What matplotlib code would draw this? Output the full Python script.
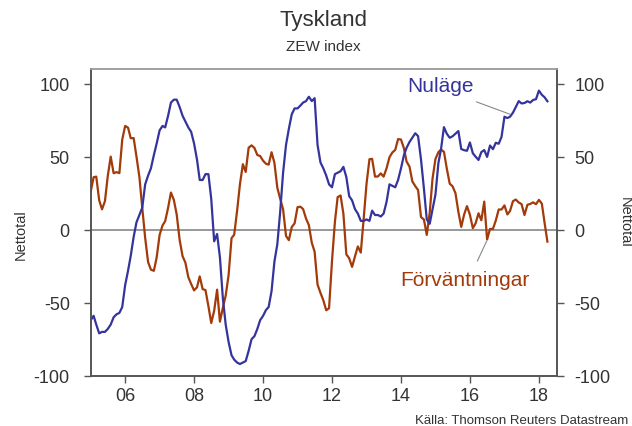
import numpy as np
import pandas as pd
import matplotlib
matplotlib.use('Agg')
import matplotlib.pyplot as plt
import matplotlib.dates as mdates

plt.rcParams['font.family'] = ['Liberation Sans', 'DejaVu Sans']

# monthly data, Jan 2005 - Apr 2018
months = pd.date_range('2005-01-01', periods=160, freq='MS')

# ZEW current situation (Nuläge)
nulage = [
    -62, -59, -65, -71, -70, -70, -68, -65, -60, -58, -57, -53,   # 2005
    -38, -28, -18, -5, 5, 10, 15, 31, 37, 42, 51, 59,              # 2006
    68, 71, 70, 78, 87, 89, 89, 84, 78, 74, 70, 67,                # 2007
    59, 48, 34, 34, 38, 38, 21, -8, -3, -19, -47, -65,             # 2008
    -77, -86, -89, -91, -92, -91, -90, -83, -75, -73, -68, -62,    # 2009
    -59, -55, -53, -42, -22, -10, 12, 39, 58, 69, 79, 83,          # 2010
    83, 85, 87, 88, 91, 88, 90, 58, 46, 42, 37, 31,                # 2011
    29, 38, 39, 40, 43, 36, 23, 20, 14, 11, 6, 6,                  # 2012
    7, 6, 13, 10, 10, 9, 11, 19, 31, 30, 29, 34,                   # 2013
    42, 51, 56, 60, 63, 66, 64, 48, 28, 7, 4, 14,                  # 2014
    24, 45.5, 55.1, 70.2, 65.7, 62.9, 63.9, 65.7, 67.5, 55.2, 54.4, 54.0,  # 2015
    59.7, 52.3, 50.0, 47.7, 53.1, 54.5, 49.8, 57.6, 55.1, 59.5, 58.8, 63.5,  # 2016
    77.3, 76.4, 77.3, 80.1, 83.9, 88.0, 86.4, 86.7, 87.9, 87.0, 88.8, 89.3,  # 2017
    95.2, 92.3, 90.7, 87.9,                                        # 2018
]

# ZEW economic sentiment (Förväntningar)
forvantningar = [
    26.0, 35.9, 36.3, 20.1, 13.9, 19.5, 36.8, 50.0, 38.6, 39.4, 38.7, 61.6,
    71.0, 69.8, 62.6, 62.7, 50.0, 36.0, 15.1, -5.6, -22.2, -27.4, -28.2, -19.0,
    -3.6, 2.9, 5.8, 15.0, 25.4, 20.3, 10.4, -6.9, -18.1, -22.6, -32.5, -37.2,
    -41.6, -39.5, -32.0, -40.7, -41.4, -52.4, -63.9, -55.5, -41.1, -63.0, -53.5, -45.2,
    -31.0, -5.8, -3.5, 13.0, 31.1, 44.8, 39.5, 56.1, 57.7, 56.0, 51.1, 50.4,
    47.2, 45.1, 44.5, 53.0, 45.8, 28.7, 21.2, 14.0, -4.3, -7.2, 1.8, 4.3,
    15.4, 15.7, 14.1, 7.6, 3.1, -9.0, -15.1, -37.6, -43.3, -48.3, -55.2, -53.8,
    -21.6, 5.4, 22.3, 23.4, 10.8, -16.9, -19.6, -25.5, -18.2, -11.5, -15.7, 6.9,
    31.5, 48.2, 48.5, 36.3, 36.4, 38.5, 36.3, 42.0, 49.6, 52.8, 54.6, 62.0,
    61.7, 55.7, 46.6, 43.2, 33.1, 29.8, 27.1, 8.6, 6.9, -3.6, 11.5, 34.9,
    48.4, 53.0, 54.8, 53.3, 41.9, 31.5, 29.7, 25.0, 12.1, 1.9, 10.4, 16.1,
    10.2, 1.0, 4.3, 11.2, 6.4, 19.2, -6.8, 0.5, 0.5, 6.2, 13.8, 13.8,
    16.6, 10.4, 12.8, 19.5, 20.6, 18.6, 17.5, 10.0, 17.0, 17.6, 18.7, 17.4,
    20.4, 17.8, 5.1, -8.2,
]

yticks = [-100, -50, 0, 50, 100]
xtick_years = [2006, 2008, 2010, 2012, 2014, 2016, 2018]

blue = '#34349c'
brown = '#a33a0a'
textcol = '#333333'
spinecol = '#555555'

fig = plt.figure(figsize=(6.32, 4.27), dpi=100)
ax = fig.add_axes([0.1435, 0.1178, 0.7373, 0.7183])

ax.axhline(0, color='#888888', lw=1.2, zorder=1)
ax.plot(months, forvantningar, color=brown, lw=1.6, zorder=3)
ax.plot(months, nulage, color=blue, lw=1.6, zorder=3)

ax.set_ylim(-100, 110)
ax.set_xlim(pd.Timestamp('2005-01-01'), pd.Timestamp('2018-07-08'))
ax.set_yticks(yticks)
ax.set_yticklabels([str(v) for v in yticks])
ax.set_xticks([pd.Timestamp(f'{y}-01-01') for y in xtick_years])
ax.xaxis.set_major_formatter(mdates.DateFormatter('%y'))

ax.tick_params(axis='y', direction='out', length=5, width=1, color=spinecol,
               labelsize=13, labelcolor=textcol, pad=10)
ax.tick_params(axis='x', direction='out', length=5, width=1, color=spinecol,
               labelsize=13, labelcolor=textcol, pad=3)

ax2 = ax.twinx()
ax2.set_ylim(ax.get_ylim())
ax2.set_yticks(yticks)
ax2.set_yticklabels([str(v) for v in yticks])
ax2.tick_params(axis='y', direction='out', length=5, width=1, color=spinecol,
                labelsize=13, labelcolor=textcol, pad=8)

for a in (ax, ax2):
    for side in ('left', 'right', 'bottom'):
        a.spines[side].set_color(spinecol)
        a.spines[side].set_linewidth(1.2)
    a.spines['top'].set_color('#a0a0a0')
    a.spines['top'].set_linewidth(1.2)

# series labels with leader lines
ax.text(pd.Timestamp('2015-02-20'), 99, 'Nuläge', color=blue, fontsize=15,
        ha='center', va='center')
ax.annotate('', xy=(pd.Timestamp('2017-03-01'), 79), xytext=(pd.Timestamp('2016-03-10'), 87.5),
            arrowprops=dict(arrowstyle='-', color='#888888', lw=0.8, shrinkA=0, shrinkB=0))
ax.text(pd.Timestamp('2015-11-10'), -34, 'Förväntningar', color=brown, fontsize=15,
        ha='center', va='center')
ax.annotate('', xy=(pd.Timestamp('2016-06-25'), -8), xytext=(pd.Timestamp('2016-03-20'), -21.5),
            arrowprops=dict(arrowstyle='-', color='#888888', lw=0.8, shrinkA=0, shrinkB=0))

fig.text(0.512, 0.953, 'Tyskland', ha='center', va='center', fontsize=16, color=textcol)
fig.text(0.512, 0.890, 'ZEW index', ha='center', va='center', fontsize=11, color=textcol)
fig.text(0.033, 0.45, 'Nettotal', rotation=90, ha='center', va='center', fontsize=10.5, color=textcol)
fig.text(0.989, 0.48, 'Nettotal', rotation=270, ha='center', va='center', fontsize=10.5, color=textcol)
fig.text(0.994, 0.014, 'Källa: Thomson Reuters Datastream', ha='right', va='center',
         fontsize=9.5, color=textcol)

fig.savefig('out.png', dpi=100)
